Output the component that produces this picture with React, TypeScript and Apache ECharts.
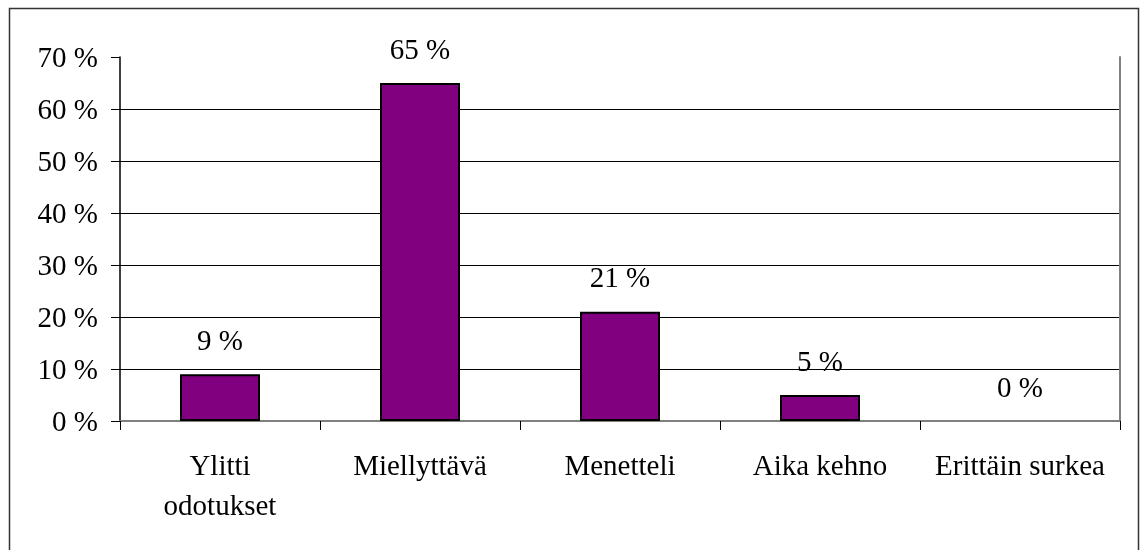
import React, { useEffect, useRef } from "react";
import * as echarts from "echarts";

const categories = ["Ylitti\nodotukset", "Miellyttävä", "Menetteli", "Aika kehno", "Erittäin surkea"];
const values = [9, 65, 21, 5, 0];
const yMin = 0;
const yMax = 70;
const yStep = 10;

const FONT = "Liberation Serif";
const FS = 29;

export default function App() {
  const ref = useRef<HTMLDivElement>(null);
  useEffect(() => {
    if (!ref.current) return;
    const chart = echarts.init(ref.current, null, { renderer: "svg" });
    chart.setOption({
      animation: false,
      graphic: [
        {
          type: "rect",
          shape: { x: 9.5, y: 8.5, width: 1129, height: 620 },
          style: { fill: "none", stroke: "#333", lineWidth: 1.5 },
          silent: true,
        },
      ],
      grid: { left: 120, right: 20, top: 57, bottom: 129 },
      xAxis: [
        {
          type: "category",
          data: categories,
          position: "bottom",
          axisLine: { show: true, lineStyle: { color: "#000", width: 1.5 } },
          axisTick: { show: true, length: 9, alignWithLabel: false, lineStyle: { color: "#000", width: 1 } },
          axisLabel: {
            interval: 0,
            margin: 24,
            fontSize: FS,
            lineHeight: 40,
            fontFamily: FONT,
            color: "#000",
          },
        },
        {
          type: "category",
          data: categories,
          position: "top",
          axisLine: { show: true, lineStyle: { color: "#808080", width: 2 } },
          axisTick: { show: false },
          axisLabel: { show: false },
        },
      ],
      yAxis: [
        {
          type: "value",
          min: yMin,
          max: yMax,
          interval: yStep,
          position: "left",
          axisLine: { show: true, lineStyle: { color: "#000", width: 1.5 } },
          axisTick: { show: true, length: 9, lineStyle: { color: "#000", width: 1 } },
          axisLabel: {
            margin: 22,
            fontSize: FS,
            fontFamily: FONT,
            color: "#000",
            formatter: "{value} %",
          },
          splitLine: { show: true, showMaxLine: false, showMinLine: false, lineStyle: { color: "#000", width: 1 } },
        },
        {
          type: "value",
          min: yMin,
          max: yMax,
          interval: yStep,
          position: "right",
          axisLine: { show: true, lineStyle: { color: "#808080", width: 2 } },
          axisTick: { show: false },
          axisLabel: { show: false },
          splitLine: { show: false },
        },
      ],
      series: [
        {
          type: "bar",
          data: values.map((v) => ({
            value: v,
            itemStyle: v === 0 ? { borderWidth: 0 } : undefined,
          })),
          barWidth: 80,
          itemStyle: { color: "#800080", borderColor: "#000", borderWidth: 2 },
          label: {
            show: true,
            position: "top",
            distance: 20,
            fontSize: FS,
            fontFamily: FONT,
            color: "#000",
            formatter: "{c} %",
          },
        },
      ],
    });
    return () => chart.dispose();
  }, []);
  return <div ref={ref} style={{ position: "fixed", left: 0, top: 0, width: 1140, height: 550 }} />;
}
